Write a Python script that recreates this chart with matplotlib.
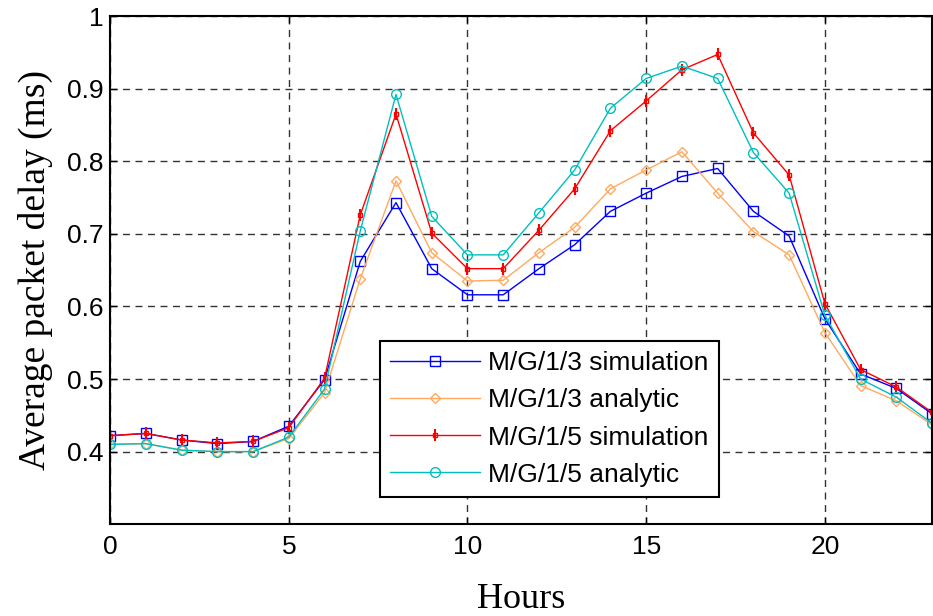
import numpy as np
import matplotlib
matplotlib.use('Agg')
import matplotlib.pyplot as plt
from matplotlib.legend_handler import HandlerTuple

hours = np.arange(24)

# M/G/1/3 simulation
sim3 = [0.422, 0.425, 0.416, 0.411, 0.414, 0.435, 0.499, 0.662, 0.743, 0.652,
        0.616, 0.616, 0.652, 0.685, 0.731, 0.756, 0.779, 0.790, 0.731, 0.697,
        0.583, 0.507, 0.487, 0.452]
# M/G/1/3 analytic
ana3 = [0.410, 0.411, 0.402, 0.400, 0.400, 0.418, 0.481, 0.638, 0.773, 0.674,
        0.635, 0.636, 0.674, 0.709, 0.762, 0.788, 0.813, 0.756, 0.703, 0.671,
        0.564, 0.491, 0.470, 0.437]
# M/G/1/5 simulation
sim5 = [0.422, 0.425, 0.416, 0.412, 0.414, 0.433, 0.501, 0.726, 0.865, 0.701,
        0.652, 0.652, 0.705, 0.762, 0.842, 0.883, 0.926, 0.947, 0.839, 0.781,
        0.604, 0.513, 0.489, 0.454]
# M/G/1/5 analytic
ana5 = [0.410, 0.411, 0.402, 0.400, 0.400, 0.420, 0.486, 0.704, 0.892, 0.724,
        0.671, 0.671, 0.729, 0.788, 0.873, 0.914, 0.931, 0.914, 0.812, 0.756,
        0.588, 0.500, 0.475, 0.439]

labels = ['M/G/1/3 simulation', 'M/G/1/3 analytic', 'M/G/1/5 simulation', 'M/G/1/5 analytic']

fig = plt.figure(figsize=(9.33, 6.16), dpi=100)
ax = fig.add_axes([0.118, 0.149, 0.881, 0.825])

h1, = ax.plot(hours, sim3, color='#0000ff', lw=1.0, marker='s', ms=7, mfc='none',
              mec='#0000ff')
h2, = ax.plot(hours, ana3, color='#ffaa60', lw=1.0, marker='D', ms=5.5, mfc='none',
              mec='#ffaa60')
h3a, = ax.plot(hours, sim5, color='#ff0000', lw=1.0, marker='s', ms=3.5, mfc='none',
               mec='#ff0000')
h3b, = ax.plot(hours, sim5, color='#ff0000', ls='none', marker='|', ms=9, mew=1.5)
h4, = ax.plot(hours, ana5, color='#00bfbf', lw=1.0, marker='o', ms=7, mfc='none',
              mec='#00bfbf')

ax.set_xlim(0, 23)
ax.set_ylim(0.3, 1.0)
ax.set_xticks([0, 5, 10, 15, 20])
ax.set_yticks([0.4, 0.5, 0.6, 0.7, 0.8, 0.9, 1.0])
ax.set_yticklabels(['0.4', '0.5', '0.6', '0.7', '0.8', '0.9', '1'])
ax.grid(True, color='#333333', linestyle=(0, (5, 4)), lw=1.0)
ax.tick_params(direction='in', top=True, right=True, length=5, width=1,
               labelsize=19)
ax.tick_params(axis='y', pad=5)
ax.tick_params(axis='x', pad=8)
for lab in ax.get_xticklabels() + ax.get_yticklabels():
    lab.set_family('Liberation Sans')
for sp in ax.spines.values():
    sp.set_linewidth(1.5)

ax.set_xlabel('Hours', family='Liberation Serif', fontsize=26, labelpad=17)
ax.set_ylabel('Average packet delay (ms)', family='Liberation Serif', fontsize=27, labelpad=10)

leg = ax.legend([h1, h2, (h3a, h3b), h4], labels, loc='lower left',
                bbox_to_anchor=(0.328, 0.053), borderaxespad=0, fancybox=False,
                edgecolor='black', framealpha=1, borderpad=0.4, labelspacing=0.5,
                handlelength=3.4, handletextpad=0.3,
                handler_map={tuple: HandlerTuple(ndivide=1, pad=0)},
                prop={'family': 'Liberation Sans', 'size': 19})
leg.get_frame().set_linewidth(1.5)

fig.savefig('out.png', dpi=100)
